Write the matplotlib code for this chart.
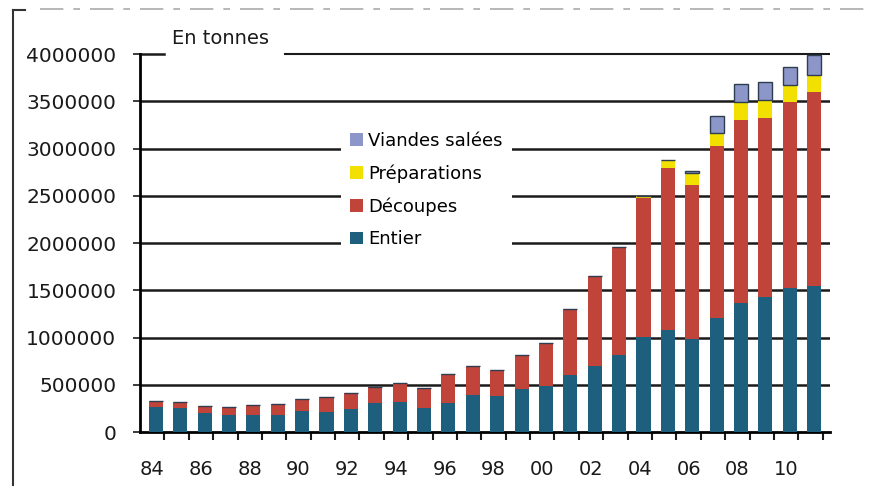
import numpy as np
import matplotlib.pyplot as plt
from matplotlib.lines import Line2D

# --- DONNEES (tonnes) ---
annees = list(range(1984, 2012))
etiquettes = ['84', '86', '88', '90', '92', '94', '96', '98', '00', '02', '04', '06', '08', '10']

entier = [265e3, 254e3, 201e3, 182e3, 180e3, 180e3, 222e3, 212e3, 243e3, 307e3,
          317e3, 254e3, 310e3, 395e3, 380e3, 450e3, 490e3, 603e3, 698e3, 820e3,
          1005e3, 1079e3, 984e3, 1206e3, 1365e3, 1428e3, 1524e3, 1545e3]
decoupes = [63e3, 63e3, 74e3, 83e3, 106e3, 116e3, 128e3, 158e3, 170e3, 169e3,
            201e3, 216e3, 304e3, 303e3, 276e3, 370e3, 452e3, 699e3, 953e3, 1135e3,
            1471e3, 1715e3, 1630e3, 1820e3, 1937e3, 1895e3, 1968e3, 2053e3]
preparations = [0]*20 + [20e3, 85e3, 127e3, 140e3, 190e3, 190e3, 180e3, 180e3]
salees = [0]*22 + [20e3, 180e3, 190e3, 190e3, 190e3, 210e3]

c_entier = '#1e5f7d'
c_decoupes = '#c0443a'
c_prep = '#f2e000'
c_salees = '#8c96c8'

# --- FIGURE ---
fig = plt.figure(figsize=(8.75, 5.01), dpi=100)
W, H = 875, 501
ax = fig.add_axes([140/W, 1-432/H, (830-140)/W, (432-49.3)/H])

n = len(annees)
xi = np.arange(n)
xb = xi + 0.15  # barres un peu decalees comme dans l'original
larg = 0.58

b1 = np.array(entier)
b2 = b1 + np.array(decoupes)
b3 = b2 + np.array(preparations)

ax.bar(xb, entier, larg, color=c_entier, label='Entier', zorder=3)
ax.bar(xb, decoupes, larg, bottom=b1, color=c_decoupes, label='Découpes', zorder=3)
ax.bar(xb, preparations, larg, bottom=b2, color=c_prep, label='Préparations', zorder=3)
ax.bar(xb, salees, larg, bottom=b3, color=c_salees, edgecolor='#2e3e50',
       linewidth=1, label='Viandes salées', zorder=3)

ax.set_xlim(-0.5, 27.8)
ax.set_ylim(0, 4.05e6)

# lignes de grille
for v in np.arange(5e5, 4e6, 5e5):
    ax.axhline(v, color='#1a1a1a', lw=1.8, zorder=1)
ax.axhline(4e6, xmin=(285-140)/690, xmax=1, color='#1a1a1a', lw=1.5, zorder=1)
ax.plot([0, 0.035], [4e6/4.05e6]*2, transform=ax.transAxes, color='#1a1a1a',
        lw=1.8, clip_on=False)

for s in ['top', 'right']:
    ax.spines[s].set_visible(False)
ax.spines['left'].set_bounds(0, 4e6)
ax.spines['left'].set_linewidth(2)
ax.spines['bottom'].set_linewidth(2)

ax.set_yticks(np.arange(0, 4.5e6, 5e5))
ax.set_yticklabels([str(int(v)) for v in np.arange(0, 4.5e6, 5e5)])
ax.tick_params(axis='y', length=5, width=1.2, pad=12, labelsize=14.5,
               colors='#1a1a1a')

ax.set_xticks(xi[::2])
ax.set_xticklabels(etiquettes)
ax.set_xticks(xi + 0.5, minor=True)
ax.tick_params(axis='x', which='major', length=0, pad=20, labelsize=14,
               colors='#1a1a1a')
ax.tick_params(axis='x', which='minor', length=6, width=1.5, color='#1a1a1a')

fig.text(172/W, 1-38/H, 'En tonnes', fontsize=14, va='center', ha='left',
         color='#1a1a1a')

h, l = ax.get_legend_handles_labels()
leg = ax.legend(h[::-1], l[::-1], loc='upper left',
                bbox_to_anchor=(332/W, 1-114/H), bbox_transform=fig.transFigure,
                fontsize=13, frameon=True, facecolor='white', edgecolor='none',
                framealpha=1, handlelength=0.7, handleheight=0.7,
                handletextpad=0.3, labelspacing=0.8, borderpad=0.5)
leg.set_zorder(5)
for p in leg.get_patches():
    p.set_edgecolor('none')

# bordure du document scanne
fig.add_artist(Line2D([13/W, 13/W], [1-10/H, 1-485/H], color='#333333', lw=1.5))
fig.add_artist(Line2D([13/W, 25/W], [1-10/H, 1-10/H], color='#333333', lw=1.5))
fig.add_artist(Line2D([40/W, 870/W], [1-9/H, 1-9/H], color='#aaaaaa', lw=1.2,
                      linestyle=(0, (14, 6, 4, 6))))

fig.savefig('out.png', dpi=100)
